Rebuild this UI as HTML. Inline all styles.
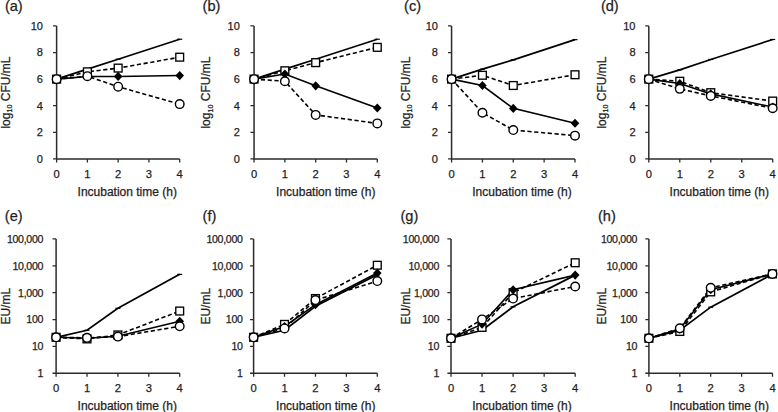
<!DOCTYPE html>
<html><head><meta charset="utf-8"><style>
html,body{margin:0;padding:0;background:#fff;}
body{width:778px;height:412px;overflow:hidden;}
svg{display:block;font-family:"Liberation Sans", sans-serif;}
text{fill:#1e1e1e;stroke:#1e1e1e;stroke-width:0.25px;}
</style></head><body>
<svg width="778" height="412" viewBox="0 0 778 412">
<rect width="778" height="412" fill="#fff"/>
<path d="M56.62 25.95V158.90H179.70" fill="none" stroke="#2b2b2b" stroke-width="1.5"/>
<path d="M53.02 158.90H56.62M53.02 132.31H56.62M53.02 105.72H56.62M53.02 79.13H56.62M53.02 52.54H56.62M53.02 25.95H56.62M56.62 158.90V162.50M87.39 158.90V162.50M118.16 158.90V162.50M148.93 158.90V162.50M179.70 158.90V162.50" fill="none" stroke="#2b2b2b" stroke-width="1.3"/>
<text x="42.92" y="162.80" font-size="11.0" text-anchor="end">0</text>
<text x="42.92" y="136.21" font-size="11.0" text-anchor="end">2</text>
<text x="42.92" y="109.62" font-size="11.0" text-anchor="end">4</text>
<text x="42.92" y="83.03" font-size="11.0" text-anchor="end">6</text>
<text x="42.92" y="56.44" font-size="11.0" text-anchor="end">8</text>
<text x="42.92" y="29.85" font-size="11.0" text-anchor="end">10</text>
<text x="56.62" y="177.60" font-size="11.2" text-anchor="middle">0</text>
<text x="87.39" y="177.60" font-size="11.2" text-anchor="middle">1</text>
<text x="118.16" y="177.60" font-size="11.2" text-anchor="middle">2</text>
<text x="148.93" y="177.60" font-size="11.2" text-anchor="middle">3</text>
<text x="179.70" y="177.60" font-size="11.2" text-anchor="middle">4</text>
<text x="127.25" y="196.10" font-size="12.0" text-anchor="middle">Incubation time (h)</text>
<text transform="translate(9.60,128.60) rotate(-90)" font-size="12.0" text-anchor="start">log<tspan font-size="7.2" dy="2.5">10</tspan><tspan dy="-2.5"> CFU/mL</tspan></text>
<text x="4.90" y="10.90" font-size="14.6" text-anchor="start">(a)</text>
<path d="M56.62 79.13L87.39 69.16L118.16 59.19L179.70 39.24" fill="none" stroke="#000" stroke-width="1.7"/>
<path d="M84.89 69.16H89.89" stroke="#000" stroke-width="1.2"/>
<path d="M115.66 59.19H120.66" stroke="#000" stroke-width="1.2"/>
<path d="M177.20 39.24H182.20" stroke="#000" stroke-width="1.2"/>
<path d="M56.62 79.13L87.39 71.82L118.16 68.10L179.70 57.19" fill="none" stroke="#000" stroke-width="1.6" stroke-dasharray="4.2 2.6"/>
<path d="M56.62 79.13L87.39 76.47L118.16 76.47L179.70 75.54" fill="none" stroke="#000" stroke-width="1.6"/>
<path d="M56.62 79.13L87.39 76.21L118.16 86.71L179.70 104.12" fill="none" stroke="#000" stroke-width="1.6" stroke-dasharray="4.2 2.6"/>
<rect x="52.72" y="75.23" width="7.8" height="7.8" fill="#fff" stroke="#000" stroke-width="1.35"/>
<rect x="83.49" y="67.92" width="7.8" height="7.8" fill="#fff" stroke="#000" stroke-width="1.35"/>
<rect x="114.26" y="64.20" width="7.8" height="7.8" fill="#fff" stroke="#000" stroke-width="1.35"/>
<rect x="175.80" y="53.29" width="7.8" height="7.8" fill="#fff" stroke="#000" stroke-width="1.35"/>
<path d="M56.62 74.53L60.92 79.13L56.62 83.73L52.32 79.13Z" fill="#000"/>
<path d="M87.39 71.87L91.69 76.47L87.39 81.07L83.09 76.47Z" fill="#000"/>
<path d="M118.16 71.87L122.46 76.47L118.16 81.07L113.86 76.47Z" fill="#000"/>
<path d="M179.70 70.94L184.00 75.54L179.70 80.14L175.40 75.54Z" fill="#000"/>
<circle cx="56.62" cy="79.13" r="4.3" fill="#fff" stroke="#000" stroke-width="1.4"/>
<circle cx="87.39" cy="76.21" r="4.3" fill="#fff" stroke="#000" stroke-width="1.4"/>
<circle cx="118.16" cy="86.71" r="4.3" fill="#fff" stroke="#000" stroke-width="1.4"/>
<circle cx="179.70" cy="104.12" r="4.3" fill="#fff" stroke="#000" stroke-width="1.4"/>
<path d="M254.06 25.95V158.90H377.30" fill="none" stroke="#2b2b2b" stroke-width="1.5"/>
<path d="M250.46 158.90H254.06M250.46 132.31H254.06M250.46 105.72H254.06M250.46 79.13H254.06M250.46 52.54H254.06M250.46 25.95H254.06M254.06 158.90V162.50M284.87 158.90V162.50M315.68 158.90V162.50M346.49 158.90V162.50M377.30 158.90V162.50" fill="none" stroke="#2b2b2b" stroke-width="1.3"/>
<text x="239.86" y="162.80" font-size="11.0" text-anchor="end">0</text>
<text x="239.86" y="136.21" font-size="11.0" text-anchor="end">2</text>
<text x="239.86" y="109.62" font-size="11.0" text-anchor="end">4</text>
<text x="239.86" y="83.03" font-size="11.0" text-anchor="end">6</text>
<text x="239.86" y="56.44" font-size="11.0" text-anchor="end">8</text>
<text x="239.86" y="29.85" font-size="11.0" text-anchor="end">10</text>
<text x="254.06" y="177.60" font-size="11.2" text-anchor="middle">0</text>
<text x="284.87" y="177.60" font-size="11.2" text-anchor="middle">1</text>
<text x="315.68" y="177.60" font-size="11.2" text-anchor="middle">2</text>
<text x="346.49" y="177.60" font-size="11.2" text-anchor="middle">3</text>
<text x="377.30" y="177.60" font-size="11.2" text-anchor="middle">4</text>
<text x="325.75" y="196.10" font-size="12.0" text-anchor="middle">Incubation time (h)</text>
<text transform="translate(210.10,128.60) rotate(-90)" font-size="12.0" text-anchor="start">log<tspan font-size="7.2" dy="2.5">10</tspan><tspan dy="-2.5"> CFU/mL</tspan></text>
<text x="202.60" y="10.90" font-size="14.6" text-anchor="start">(b)</text>
<path d="M254.06 79.13L284.87 69.16L315.68 59.19L377.30 39.24" fill="none" stroke="#000" stroke-width="1.7"/>
<path d="M282.37 69.16H287.37" stroke="#000" stroke-width="1.2"/>
<path d="M313.18 59.19H318.18" stroke="#000" stroke-width="1.2"/>
<path d="M374.80 39.24H379.80" stroke="#000" stroke-width="1.2"/>
<path d="M254.06 79.13L284.87 70.75L315.68 62.64L377.30 47.35" fill="none" stroke="#000" stroke-width="1.6" stroke-dasharray="4.2 2.6"/>
<path d="M254.06 79.13L284.87 74.08L315.68 85.78L377.30 107.98" fill="none" stroke="#000" stroke-width="1.6"/>
<path d="M254.06 79.13L284.87 81.26L315.68 114.89L377.30 123.40" fill="none" stroke="#000" stroke-width="1.6" stroke-dasharray="4.2 2.6"/>
<rect x="250.16" y="75.23" width="7.8" height="7.8" fill="#fff" stroke="#000" stroke-width="1.35"/>
<rect x="280.97" y="66.85" width="7.8" height="7.8" fill="#fff" stroke="#000" stroke-width="1.35"/>
<rect x="311.78" y="58.74" width="7.8" height="7.8" fill="#fff" stroke="#000" stroke-width="1.35"/>
<rect x="373.40" y="43.45" width="7.8" height="7.8" fill="#fff" stroke="#000" stroke-width="1.35"/>
<path d="M254.06 74.53L258.36 79.13L254.06 83.73L249.76 79.13Z" fill="#000"/>
<path d="M284.87 69.48L289.17 74.08L284.87 78.68L280.57 74.08Z" fill="#000"/>
<path d="M315.68 81.18L319.98 85.78L315.68 90.38L311.38 85.78Z" fill="#000"/>
<path d="M377.30 103.38L381.60 107.98L377.30 112.58L373.00 107.98Z" fill="#000"/>
<circle cx="254.06" cy="79.13" r="4.3" fill="#fff" stroke="#000" stroke-width="1.4"/>
<circle cx="284.87" cy="81.26" r="4.3" fill="#fff" stroke="#000" stroke-width="1.4"/>
<circle cx="315.68" cy="114.89" r="4.3" fill="#fff" stroke="#000" stroke-width="1.4"/>
<circle cx="377.30" cy="123.40" r="4.3" fill="#fff" stroke="#000" stroke-width="1.4"/>
<path d="M451.57 25.95V158.90H575.00" fill="none" stroke="#2b2b2b" stroke-width="1.5"/>
<path d="M447.97 158.90H451.57M447.97 132.31H451.57M447.97 105.72H451.57M447.97 79.13H451.57M447.97 52.54H451.57M447.97 25.95H451.57M451.57 158.90V162.50M482.43 158.90V162.50M513.28 158.90V162.50M544.14 158.90V162.50M575.00 158.90V162.50" fill="none" stroke="#2b2b2b" stroke-width="1.3"/>
<text x="437.97" y="162.80" font-size="11.0" text-anchor="end">0</text>
<text x="437.97" y="136.21" font-size="11.0" text-anchor="end">2</text>
<text x="437.97" y="109.62" font-size="11.0" text-anchor="end">4</text>
<text x="437.97" y="83.03" font-size="11.0" text-anchor="end">6</text>
<text x="437.97" y="56.44" font-size="11.0" text-anchor="end">8</text>
<text x="437.97" y="29.85" font-size="11.0" text-anchor="end">10</text>
<text x="451.57" y="177.60" font-size="11.2" text-anchor="middle">0</text>
<text x="482.43" y="177.60" font-size="11.2" text-anchor="middle">1</text>
<text x="513.28" y="177.60" font-size="11.2" text-anchor="middle">2</text>
<text x="544.14" y="177.60" font-size="11.2" text-anchor="middle">3</text>
<text x="575.00" y="177.60" font-size="11.2" text-anchor="middle">4</text>
<text x="521.95" y="196.10" font-size="12.0" text-anchor="middle">Incubation time (h)</text>
<text transform="translate(409.80,128.60) rotate(-90)" font-size="12.0" text-anchor="start">log<tspan font-size="7.2" dy="2.5">10</tspan><tspan dy="-2.5"> CFU/mL</tspan></text>
<text x="404.10" y="10.90" font-size="14.6" text-anchor="start">(c)</text>
<path d="M451.57 79.13L482.43 69.16L513.28 59.85L575.00 39.64" fill="none" stroke="#000" stroke-width="1.7"/>
<path d="M479.93 69.16H484.93" stroke="#000" stroke-width="1.2"/>
<path d="M510.78 59.85H515.78" stroke="#000" stroke-width="1.2"/>
<path d="M572.50 39.64H577.50" stroke="#000" stroke-width="1.2"/>
<path d="M451.57 79.13L482.43 75.27L513.28 85.51L575.00 74.74" fill="none" stroke="#000" stroke-width="1.6" stroke-dasharray="4.2 2.6"/>
<path d="M451.57 79.13L482.43 85.51L513.28 108.38L575.00 123.27" fill="none" stroke="#000" stroke-width="1.6"/>
<path d="M451.57 79.13L482.43 112.77L513.28 130.05L575.00 135.63" fill="none" stroke="#000" stroke-width="1.6" stroke-dasharray="4.2 2.6"/>
<rect x="447.67" y="75.23" width="7.8" height="7.8" fill="#fff" stroke="#000" stroke-width="1.35"/>
<rect x="478.53" y="71.37" width="7.8" height="7.8" fill="#fff" stroke="#000" stroke-width="1.35"/>
<rect x="509.38" y="81.61" width="7.8" height="7.8" fill="#fff" stroke="#000" stroke-width="1.35"/>
<rect x="571.10" y="70.84" width="7.8" height="7.8" fill="#fff" stroke="#000" stroke-width="1.35"/>
<path d="M451.57 74.53L455.87 79.13L451.57 83.73L447.27 79.13Z" fill="#000"/>
<path d="M482.43 80.91L486.73 85.51L482.43 90.11L478.13 85.51Z" fill="#000"/>
<path d="M513.28 103.78L517.58 108.38L513.28 112.98L508.98 108.38Z" fill="#000"/>
<path d="M575.00 118.67L579.30 123.27L575.00 127.87L570.70 123.27Z" fill="#000"/>
<circle cx="451.57" cy="79.13" r="4.3" fill="#fff" stroke="#000" stroke-width="1.4"/>
<circle cx="482.43" cy="112.77" r="4.3" fill="#fff" stroke="#000" stroke-width="1.4"/>
<circle cx="513.28" cy="130.05" r="4.3" fill="#fff" stroke="#000" stroke-width="1.4"/>
<circle cx="575.00" cy="135.63" r="4.3" fill="#fff" stroke="#000" stroke-width="1.4"/>
<path d="M648.80 25.95V158.90H772.70" fill="none" stroke="#2b2b2b" stroke-width="1.5"/>
<path d="M645.20 158.90H648.80M645.20 132.31H648.80M645.20 105.72H648.80M645.20 79.13H648.80M645.20 52.54H648.80M645.20 25.95H648.80M648.80 158.90V162.50M679.77 158.90V162.50M710.75 158.90V162.50M741.73 158.90V162.50M772.70 158.90V162.50" fill="none" stroke="#2b2b2b" stroke-width="1.3"/>
<text x="635.50" y="162.80" font-size="11.0" text-anchor="end">0</text>
<text x="635.50" y="136.21" font-size="11.0" text-anchor="end">2</text>
<text x="635.50" y="109.62" font-size="11.0" text-anchor="end">4</text>
<text x="635.50" y="83.03" font-size="11.0" text-anchor="end">6</text>
<text x="635.50" y="56.44" font-size="11.0" text-anchor="end">8</text>
<text x="635.50" y="29.85" font-size="11.0" text-anchor="end">10</text>
<text x="648.80" y="177.60" font-size="11.2" text-anchor="middle">0</text>
<text x="679.77" y="177.60" font-size="11.2" text-anchor="middle">1</text>
<text x="710.75" y="177.60" font-size="11.2" text-anchor="middle">2</text>
<text x="741.73" y="177.60" font-size="11.2" text-anchor="middle">3</text>
<text x="772.70" y="177.60" font-size="11.2" text-anchor="middle">4</text>
<text x="719.30" y="196.10" font-size="12.0" text-anchor="middle">Incubation time (h)</text>
<text transform="translate(605.60,128.60) rotate(-90)" font-size="12.0" text-anchor="start">log<tspan font-size="7.2" dy="2.5">10</tspan><tspan dy="-2.5"> CFU/mL</tspan></text>
<text x="600.90" y="10.90" font-size="14.6" text-anchor="start">(d)</text>
<path d="M648.80 79.13L679.77 69.82L710.75 59.45L772.70 39.51" fill="none" stroke="#000" stroke-width="1.7"/>
<path d="M677.27 69.82H682.27" stroke="#000" stroke-width="1.2"/>
<path d="M708.25 59.45H713.25" stroke="#000" stroke-width="1.2"/>
<path d="M770.20 39.51H775.20" stroke="#000" stroke-width="1.2"/>
<path d="M648.80 79.13L679.77 81.26L710.75 92.69L772.70 101.07" fill="none" stroke="#000" stroke-width="1.6" stroke-dasharray="4.2 2.6"/>
<path d="M648.80 79.13L679.77 83.52L710.75 93.89L772.70 107.05" fill="none" stroke="#000" stroke-width="1.6"/>
<path d="M648.80 79.13L679.77 88.84L710.75 95.88L772.70 108.25" fill="none" stroke="#000" stroke-width="1.6" stroke-dasharray="4.2 2.6"/>
<rect x="644.90" y="75.23" width="7.8" height="7.8" fill="#fff" stroke="#000" stroke-width="1.35"/>
<rect x="675.88" y="77.36" width="7.8" height="7.8" fill="#fff" stroke="#000" stroke-width="1.35"/>
<rect x="706.85" y="88.79" width="7.8" height="7.8" fill="#fff" stroke="#000" stroke-width="1.35"/>
<rect x="768.80" y="97.17" width="7.8" height="7.8" fill="#fff" stroke="#000" stroke-width="1.35"/>
<path d="M648.80 74.53L653.10 79.13L648.80 83.73L644.50 79.13Z" fill="#000"/>
<path d="M679.77 78.92L684.07 83.52L679.77 88.12L675.48 83.52Z" fill="#000"/>
<path d="M710.75 89.29L715.05 93.89L710.75 98.49L706.45 93.89Z" fill="#000"/>
<path d="M772.70 102.45L777.00 107.05L772.70 111.65L768.40 107.05Z" fill="#000"/>
<circle cx="648.80" cy="79.13" r="4.3" fill="#fff" stroke="#000" stroke-width="1.4"/>
<circle cx="679.77" cy="88.84" r="4.3" fill="#fff" stroke="#000" stroke-width="1.4"/>
<circle cx="710.75" cy="95.88" r="4.3" fill="#fff" stroke="#000" stroke-width="1.4"/>
<circle cx="772.70" cy="108.25" r="4.3" fill="#fff" stroke="#000" stroke-width="1.4"/>
<path d="M56.10 238.95V373.25H179.70" fill="none" stroke="#2b2b2b" stroke-width="1.5"/>
<path d="M52.50 373.25H56.10M52.50 346.39H56.10M52.50 319.53H56.10M52.50 292.67H56.10M52.50 265.81H56.10M52.50 238.95H56.10M56.10 373.25V376.85M87.00 373.25V376.85M117.90 373.25V376.85M148.80 373.25V376.85M179.70 373.25V376.85" fill="none" stroke="#2b2b2b" stroke-width="1.3"/>
<text x="43.10" y="377.15" font-size="10.6" text-anchor="end" letter-spacing="-0.3">1</text>
<text x="43.10" y="350.29" font-size="10.6" text-anchor="end" letter-spacing="-0.3">10</text>
<text x="43.10" y="323.43" font-size="10.6" text-anchor="end" letter-spacing="-0.3">100</text>
<text x="43.10" y="296.57" font-size="10.6" text-anchor="end" letter-spacing="-0.3">1,000</text>
<text x="43.10" y="269.71" font-size="10.6" text-anchor="end" letter-spacing="-0.3">10,000</text>
<text x="43.10" y="242.85" font-size="10.6" text-anchor="end" letter-spacing="-0.3">100,000</text>
<text x="56.10" y="391.95" font-size="11.2" text-anchor="middle">0</text>
<text x="87.00" y="391.95" font-size="11.2" text-anchor="middle">1</text>
<text x="117.90" y="391.95" font-size="11.2" text-anchor="middle">2</text>
<text x="148.80" y="391.95" font-size="11.2" text-anchor="middle">3</text>
<text x="179.70" y="391.95" font-size="11.2" text-anchor="middle">4</text>
<text x="127.25" y="410.45" font-size="12.0" text-anchor="middle">Incubation time (h)</text>
<text transform="translate(9.90,324.60) rotate(-90)" font-size="12.0" text-anchor="start">EU/mL</text>
<text x="4.80" y="220.80" font-size="14.6" text-anchor="start">(e)</text>
<path d="M56.10 337.30L87.00 330.22L117.90 308.29L179.70 274.37" fill="none" stroke="#000" stroke-width="1.7"/>
<path d="M84.50 330.22H89.50" stroke="#000" stroke-width="1.2"/>
<path d="M115.40 308.29H120.40" stroke="#000" stroke-width="1.2"/>
<path d="M177.20 274.37H182.20" stroke="#000" stroke-width="1.2"/>
<path d="M56.10 337.30L87.00 338.90L117.90 334.93L179.70 311.04" fill="none" stroke="#000" stroke-width="1.6" stroke-dasharray="4.2 2.6"/>
<path d="M56.10 337.30L87.00 338.30L117.90 336.18L179.70 321.29" fill="none" stroke="#000" stroke-width="1.6"/>
<path d="M56.10 337.30L87.00 337.85L117.90 336.62L179.70 326.29" fill="none" stroke="#000" stroke-width="1.6" stroke-dasharray="4.2 2.6"/>
<rect x="52.20" y="333.40" width="7.8" height="7.8" fill="#fff" stroke="#000" stroke-width="1.35"/>
<rect x="83.10" y="335.00" width="7.8" height="7.8" fill="#fff" stroke="#000" stroke-width="1.35"/>
<rect x="114.00" y="331.03" width="7.8" height="7.8" fill="#fff" stroke="#000" stroke-width="1.35"/>
<rect x="175.80" y="307.14" width="7.8" height="7.8" fill="#fff" stroke="#000" stroke-width="1.35"/>
<path d="M56.10 332.70L60.40 337.30L56.10 341.90L51.80 337.30Z" fill="#000"/>
<path d="M87.00 333.70L91.30 338.30L87.00 342.90L82.70 338.30Z" fill="#000"/>
<path d="M117.90 331.58L122.20 336.18L117.90 340.78L113.60 336.18Z" fill="#000"/>
<path d="M179.70 316.69L184.00 321.29L179.70 325.89L175.40 321.29Z" fill="#000"/>
<circle cx="56.10" cy="337.30" r="4.3" fill="#fff" stroke="#000" stroke-width="1.4"/>
<circle cx="87.00" cy="337.85" r="4.3" fill="#fff" stroke="#000" stroke-width="1.4"/>
<circle cx="117.90" cy="336.62" r="4.3" fill="#fff" stroke="#000" stroke-width="1.4"/>
<circle cx="179.70" cy="326.29" r="4.3" fill="#fff" stroke="#000" stroke-width="1.4"/>
<path d="M253.60 238.95V373.25H377.30" fill="none" stroke="#2b2b2b" stroke-width="1.5"/>
<path d="M250.00 373.25H253.60M250.00 346.39H253.60M250.00 319.53H253.60M250.00 292.67H253.60M250.00 265.81H253.60M250.00 238.95H253.60M253.60 373.25V376.85M284.52 373.25V376.85M315.45 373.25V376.85M346.38 373.25V376.85M377.30 373.25V376.85" fill="none" stroke="#2b2b2b" stroke-width="1.3"/>
<text x="242.60" y="377.15" font-size="10.6" text-anchor="end" letter-spacing="-0.3">1</text>
<text x="242.60" y="350.29" font-size="10.6" text-anchor="end" letter-spacing="-0.3">10</text>
<text x="242.60" y="323.43" font-size="10.6" text-anchor="end" letter-spacing="-0.3">100</text>
<text x="242.60" y="296.57" font-size="10.6" text-anchor="end" letter-spacing="-0.3">1,000</text>
<text x="242.60" y="269.71" font-size="10.6" text-anchor="end" letter-spacing="-0.3">10,000</text>
<text x="242.60" y="242.85" font-size="10.6" text-anchor="end" letter-spacing="-0.3">100,000</text>
<text x="253.60" y="391.95" font-size="11.2" text-anchor="middle">0</text>
<text x="284.52" y="391.95" font-size="11.2" text-anchor="middle">1</text>
<text x="315.45" y="391.95" font-size="11.2" text-anchor="middle">2</text>
<text x="346.38" y="391.95" font-size="11.2" text-anchor="middle">3</text>
<text x="377.30" y="391.95" font-size="11.2" text-anchor="middle">4</text>
<text x="325.75" y="410.45" font-size="12.0" text-anchor="middle">Incubation time (h)</text>
<text transform="translate(210.40,324.60) rotate(-90)" font-size="12.0" text-anchor="start">EU/mL</text>
<text x="202.60" y="220.80" font-size="14.6" text-anchor="start">(f)</text>
<path d="M253.60 337.30L284.52 330.22L315.45 306.33L377.30 274.62" fill="none" stroke="#000" stroke-width="1.7"/>
<path d="M282.02 330.22H287.02" stroke="#000" stroke-width="1.2"/>
<path d="M312.95 306.33H317.95" stroke="#000" stroke-width="1.2"/>
<path d="M374.80 274.62H379.80" stroke="#000" stroke-width="1.2"/>
<path d="M253.60 337.30L284.52 324.38L315.45 298.53L377.30 265.24" fill="none" stroke="#000" stroke-width="1.6" stroke-dasharray="4.2 2.6"/>
<path d="M253.60 337.30L284.52 326.50L315.45 304.72L377.30 273.06" fill="none" stroke="#000" stroke-width="1.6"/>
<path d="M253.60 337.30L284.52 328.44L315.45 300.08L377.30 281.08" fill="none" stroke="#000" stroke-width="1.6" stroke-dasharray="4.2 2.6"/>
<rect x="249.70" y="333.40" width="7.8" height="7.8" fill="#fff" stroke="#000" stroke-width="1.35"/>
<rect x="280.62" y="320.48" width="7.8" height="7.8" fill="#fff" stroke="#000" stroke-width="1.35"/>
<rect x="311.55" y="294.63" width="7.8" height="7.8" fill="#fff" stroke="#000" stroke-width="1.35"/>
<rect x="373.40" y="261.34" width="7.8" height="7.8" fill="#fff" stroke="#000" stroke-width="1.35"/>
<path d="M253.60 332.70L257.90 337.30L253.60 341.90L249.30 337.30Z" fill="#000"/>
<path d="M284.52 321.90L288.82 326.50L284.52 331.10L280.22 326.50Z" fill="#000"/>
<path d="M315.45 300.12L319.75 304.72L315.45 309.32L311.15 304.72Z" fill="#000"/>
<path d="M377.30 268.46L381.60 273.06L377.30 277.66L373.00 273.06Z" fill="#000"/>
<circle cx="253.60" cy="337.30" r="4.3" fill="#fff" stroke="#000" stroke-width="1.4"/>
<circle cx="284.52" cy="328.44" r="4.3" fill="#fff" stroke="#000" stroke-width="1.4"/>
<circle cx="315.45" cy="300.08" r="4.3" fill="#fff" stroke="#000" stroke-width="1.4"/>
<circle cx="377.30" cy="281.08" r="4.3" fill="#fff" stroke="#000" stroke-width="1.4"/>
<path d="M451.00 238.95V373.25H575.20" fill="none" stroke="#2b2b2b" stroke-width="1.5"/>
<path d="M447.40 373.25H451.00M447.40 346.39H451.00M447.40 319.53H451.00M447.40 292.67H451.00M447.40 265.81H451.00M447.40 238.95H451.00M451.00 373.25V376.85M482.05 373.25V376.85M513.10 373.25V376.85M544.15 373.25V376.85M575.20 373.25V376.85" fill="none" stroke="#2b2b2b" stroke-width="1.3"/>
<text x="439.00" y="377.15" font-size="10.6" text-anchor="end" letter-spacing="-0.3">1</text>
<text x="439.00" y="350.29" font-size="10.6" text-anchor="end" letter-spacing="-0.3">10</text>
<text x="439.00" y="323.43" font-size="10.6" text-anchor="end" letter-spacing="-0.3">100</text>
<text x="439.00" y="296.57" font-size="10.6" text-anchor="end" letter-spacing="-0.3">1,000</text>
<text x="439.00" y="269.71" font-size="10.6" text-anchor="end" letter-spacing="-0.3">10,000</text>
<text x="439.00" y="242.85" font-size="10.6" text-anchor="end" letter-spacing="-0.3">100,000</text>
<text x="451.00" y="391.95" font-size="11.2" text-anchor="middle">0</text>
<text x="482.05" y="391.95" font-size="11.2" text-anchor="middle">1</text>
<text x="513.10" y="391.95" font-size="11.2" text-anchor="middle">2</text>
<text x="544.15" y="391.95" font-size="11.2" text-anchor="middle">3</text>
<text x="575.20" y="391.95" font-size="11.2" text-anchor="middle">4</text>
<text x="521.95" y="410.45" font-size="12.0" text-anchor="middle">Incubation time (h)</text>
<text transform="translate(409.80,324.60) rotate(-90)" font-size="12.0" text-anchor="start">EU/mL</text>
<text x="400.50" y="220.80" font-size="14.6" text-anchor="start">(g)</text>
<path d="M451.00 338.30L482.05 330.22L513.10 306.83L575.20 275.12" fill="none" stroke="#000" stroke-width="1.7"/>
<path d="M479.55 330.22H484.55" stroke="#000" stroke-width="1.2"/>
<path d="M510.60 306.83H515.60" stroke="#000" stroke-width="1.2"/>
<path d="M572.70 275.12H577.70" stroke="#000" stroke-width="1.2"/>
<path d="M451.00 338.30L482.05 327.38L513.10 292.67L575.20 262.75" fill="none" stroke="#000" stroke-width="1.6" stroke-dasharray="4.2 2.6"/>
<path d="M451.00 338.30L482.05 324.20L513.10 289.79L575.20 275.12" fill="none" stroke="#000" stroke-width="1.6"/>
<path d="M451.00 338.30L482.05 319.41L513.10 298.53L575.20 286.48" fill="none" stroke="#000" stroke-width="1.6" stroke-dasharray="4.2 2.6"/>
<rect x="447.10" y="334.40" width="7.8" height="7.8" fill="#fff" stroke="#000" stroke-width="1.35"/>
<rect x="478.15" y="323.48" width="7.8" height="7.8" fill="#fff" stroke="#000" stroke-width="1.35"/>
<rect x="509.20" y="288.77" width="7.8" height="7.8" fill="#fff" stroke="#000" stroke-width="1.35"/>
<rect x="571.30" y="258.85" width="7.8" height="7.8" fill="#fff" stroke="#000" stroke-width="1.35"/>
<path d="M451.00 333.70L455.30 338.30L451.00 342.90L446.70 338.30Z" fill="#000"/>
<path d="M482.05 319.60L486.35 324.20L482.05 328.80L477.75 324.20Z" fill="#000"/>
<path d="M513.10 285.19L517.40 289.79L513.10 294.39L508.80 289.79Z" fill="#000"/>
<path d="M575.20 270.52L579.50 275.12L575.20 279.72L570.90 275.12Z" fill="#000"/>
<circle cx="451.00" cy="338.30" r="4.3" fill="#fff" stroke="#000" stroke-width="1.4"/>
<circle cx="482.05" cy="319.41" r="4.3" fill="#fff" stroke="#000" stroke-width="1.4"/>
<circle cx="513.10" cy="298.53" r="4.3" fill="#fff" stroke="#000" stroke-width="1.4"/>
<circle cx="575.20" cy="286.48" r="4.3" fill="#fff" stroke="#000" stroke-width="1.4"/>
<path d="M648.90 238.95V373.25H772.50" fill="none" stroke="#2b2b2b" stroke-width="1.5"/>
<path d="M645.30 373.25H648.90M645.30 346.39H648.90M645.30 319.53H648.90M645.30 292.67H648.90M645.30 265.81H648.90M645.30 238.95H648.90M648.90 373.25V376.85M679.80 373.25V376.85M710.70 373.25V376.85M741.60 373.25V376.85M772.50 373.25V376.85" fill="none" stroke="#2b2b2b" stroke-width="1.3"/>
<text x="637.10" y="377.15" font-size="10.6" text-anchor="end" letter-spacing="-0.3">1</text>
<text x="637.10" y="350.29" font-size="10.6" text-anchor="end" letter-spacing="-0.3">10</text>
<text x="637.10" y="323.43" font-size="10.6" text-anchor="end" letter-spacing="-0.3">100</text>
<text x="637.10" y="296.57" font-size="10.6" text-anchor="end" letter-spacing="-0.3">1,000</text>
<text x="637.10" y="269.71" font-size="10.6" text-anchor="end" letter-spacing="-0.3">10,000</text>
<text x="637.10" y="242.85" font-size="10.6" text-anchor="end" letter-spacing="-0.3">100,000</text>
<text x="648.90" y="391.95" font-size="11.2" text-anchor="middle">0</text>
<text x="679.80" y="391.95" font-size="11.2" text-anchor="middle">1</text>
<text x="710.70" y="391.95" font-size="11.2" text-anchor="middle">2</text>
<text x="741.60" y="391.95" font-size="11.2" text-anchor="middle">3</text>
<text x="772.50" y="391.95" font-size="11.2" text-anchor="middle">4</text>
<text x="719.30" y="410.45" font-size="12.0" text-anchor="middle">Incubation time (h)</text>
<text transform="translate(606.20,324.60) rotate(-90)" font-size="12.0" text-anchor="start">EU/mL</text>
<text x="598.00" y="220.80" font-size="14.6" text-anchor="start">(h)</text>
<path d="M648.90 338.30L679.80 330.22L710.70 307.19L772.50 274.13" fill="none" stroke="#000" stroke-width="1.7"/>
<path d="M677.30 330.22H682.30" stroke="#000" stroke-width="1.2"/>
<path d="M708.20 307.19H713.20" stroke="#000" stroke-width="1.2"/>
<path d="M770.00 274.13H775.00" stroke="#000" stroke-width="1.2"/>
<path d="M648.90 338.30L679.80 331.45L710.70 291.88L772.50 273.90" fill="none" stroke="#000" stroke-width="1.6" stroke-dasharray="4.2 2.6"/>
<path d="M648.90 338.30L679.80 329.11L710.70 289.61L772.50 273.90" fill="none" stroke="#000" stroke-width="1.6"/>
<path d="M648.90 338.30L679.80 328.34L710.70 287.79L772.50 273.97" fill="none" stroke="#000" stroke-width="1.6" stroke-dasharray="4.2 2.6"/>
<rect x="645.00" y="334.40" width="7.8" height="7.8" fill="#fff" stroke="#000" stroke-width="1.35"/>
<rect x="675.90" y="327.55" width="7.8" height="7.8" fill="#fff" stroke="#000" stroke-width="1.35"/>
<rect x="706.80" y="287.98" width="7.8" height="7.8" fill="#fff" stroke="#000" stroke-width="1.35"/>
<rect x="768.60" y="270.00" width="7.8" height="7.8" fill="#fff" stroke="#000" stroke-width="1.35"/>
<path d="M648.90 333.70L653.20 338.30L648.90 342.90L644.60 338.30Z" fill="#000"/>
<path d="M679.80 324.51L684.10 329.11L679.80 333.71L675.50 329.11Z" fill="#000"/>
<path d="M710.70 285.01L715.00 289.61L710.70 294.21L706.40 289.61Z" fill="#000"/>
<path d="M772.50 269.30L776.80 273.90L772.50 278.50L768.20 273.90Z" fill="#000"/>
<circle cx="648.90" cy="338.30" r="4.3" fill="#fff" stroke="#000" stroke-width="1.4"/>
<circle cx="679.80" cy="328.34" r="4.3" fill="#fff" stroke="#000" stroke-width="1.4"/>
<circle cx="710.70" cy="287.79" r="4.3" fill="#fff" stroke="#000" stroke-width="1.4"/>
<circle cx="772.50" cy="273.97" r="4.3" fill="#fff" stroke="#000" stroke-width="1.4"/>
</svg></body></html>
